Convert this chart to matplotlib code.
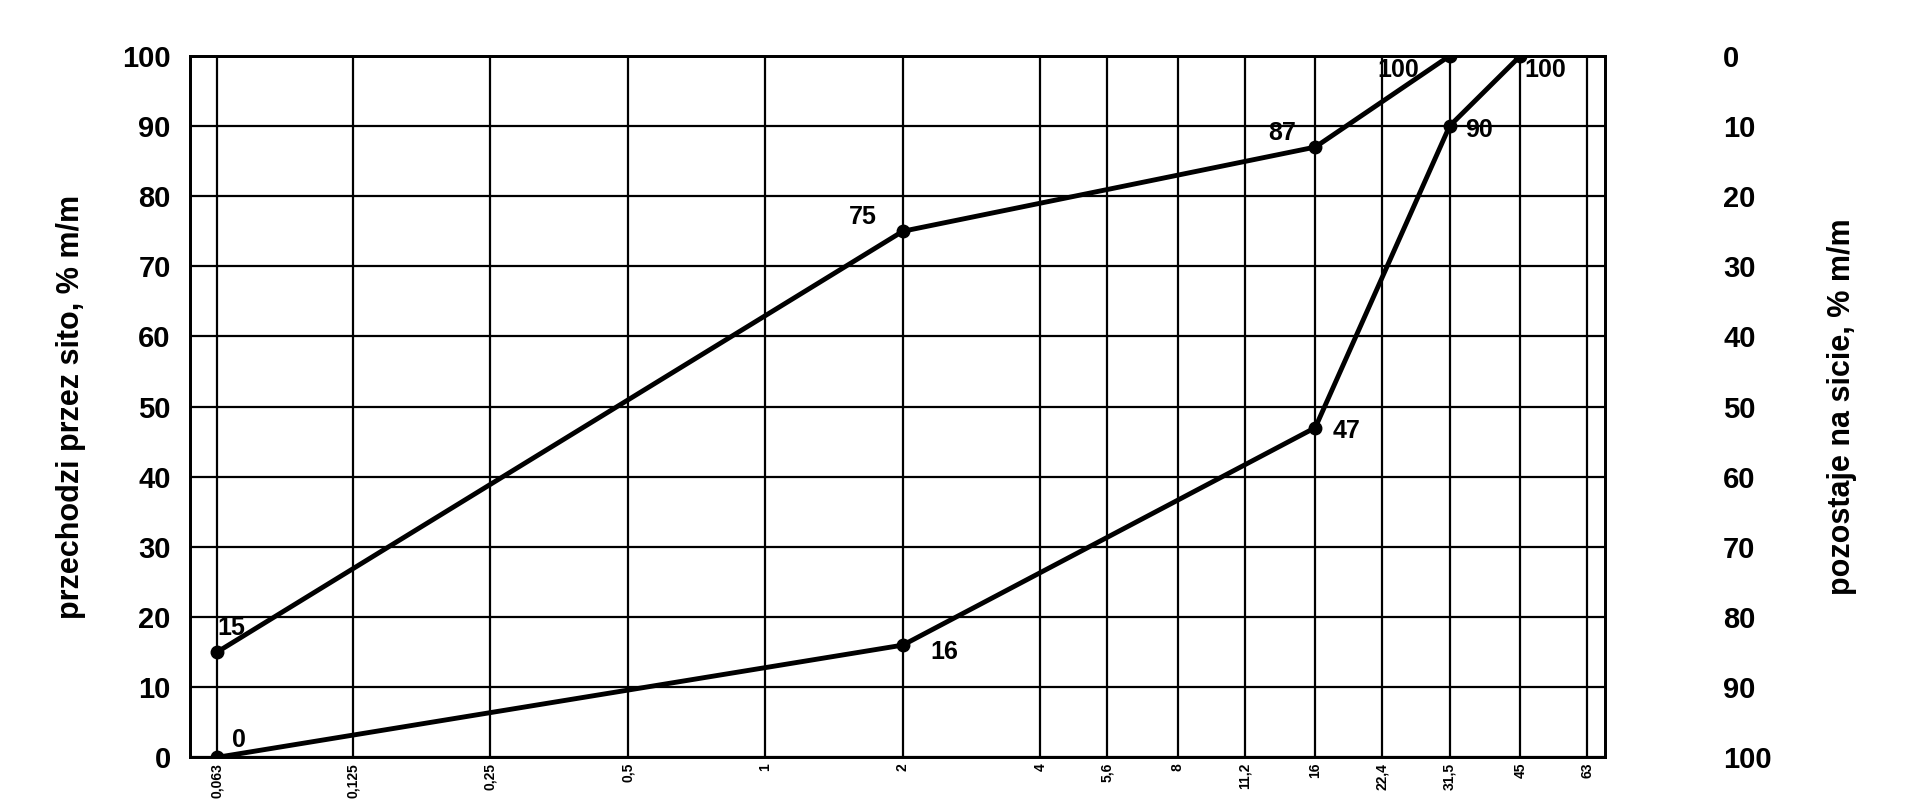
import matplotlib
matplotlib.use("Agg")
import matplotlib.pyplot as plt

sita = [0.063, 0.125, 0.25, 0.5, 1, 2, 4, 5.6, 8, 11.2, 16, 22.4, 31.5, 45, 63]
sita_lbl = ["0,063", "0,125", "0,25", "0,5", "1", "2", "4", "5,6", "8", "11,2", "16", "22,4", "31,5", "45", "63"]

x_a = [0.063, 2, 16, 31.5]
y_a = [15, 75, 87, 100]
x_b = [0.063, 2, 16, 31.5, 45]
y_b = [0, 16, 47, 90, 100]

plt.rcParams['font.family'] = ['Liberation Sans', 'DejaVu Sans']
fig = plt.figure(figsize=(19.2, 8.1), dpi=100)
ax = fig.add_axes([0.099, 0.065, 0.737, 0.866])
ax.set_xscale("log")
ax.set_xlim(0.055, 69)
ax.set_ylim(0, 100)
ax.set_xticks(sita)
ax.set_xticklabels(sita_lbl, rotation=90, fontsize=10, fontweight="bold")
ax.minorticks_off()
ax.tick_params(axis="x", length=0, pad=4)
ax.set_yticks(range(0, 101, 10))
ax.tick_params(axis="y", labelsize=21, length=0, pad=14)
for t in ax.get_yticklabels():
    t.set_fontweight("bold")
ax.grid(True, color="black", lw=1.6)
for s in ax.spines.values():
    s.set_linewidth(2)

ax.plot(x_a, y_a, color="black", lw=3.5, marker="o", ms=9)
ax.plot(x_b, y_b, color="black", lw=3.5, marker="o", ms=9)

kw = dict(fontsize=18, fontweight="bold")
ax.text(0.063, 17.5, "15", ha="left", **kw)
ax.text(1.75, 76, "75", ha="right", **kw)
ax.text(14.5, 88, "87", ha="right", **kw)
ax.text(27, 98, "100", ha="right", va="center", **kw)
ax.text(0.068, 1.5, "0", ha="left", **kw)
ax.text(2.3, 14, "16", ha="left", **kw)
ax.text(17.5, 45.5, "47", ha="left", **kw)
ax.text(34, 88.5, "90", ha="left", **kw)
ax.text(46, 97, "100", ha="left", **kw)

ax.set_ylabel("przechodzi przez sito, % m/m", fontsize=22, fontweight="bold", labelpad=26)
ax2 = ax.twinx()
ax2.set_ylim(100, 0)
ax2.set_yticks(range(0, 101, 10))
ax2.tick_params(axis="y", labelsize=21, length=0, pad=85)
for t in ax2.get_yticklabels():
    t.set_fontweight("bold")
for s in ax2.spines.values():
    s.set_linewidth(2)
ax2.set_ylabel("pozostaje na sicie, % m/m", fontsize=22, fontweight="bold", labelpad=40)

fig.savefig("out.png", dpi=100)
